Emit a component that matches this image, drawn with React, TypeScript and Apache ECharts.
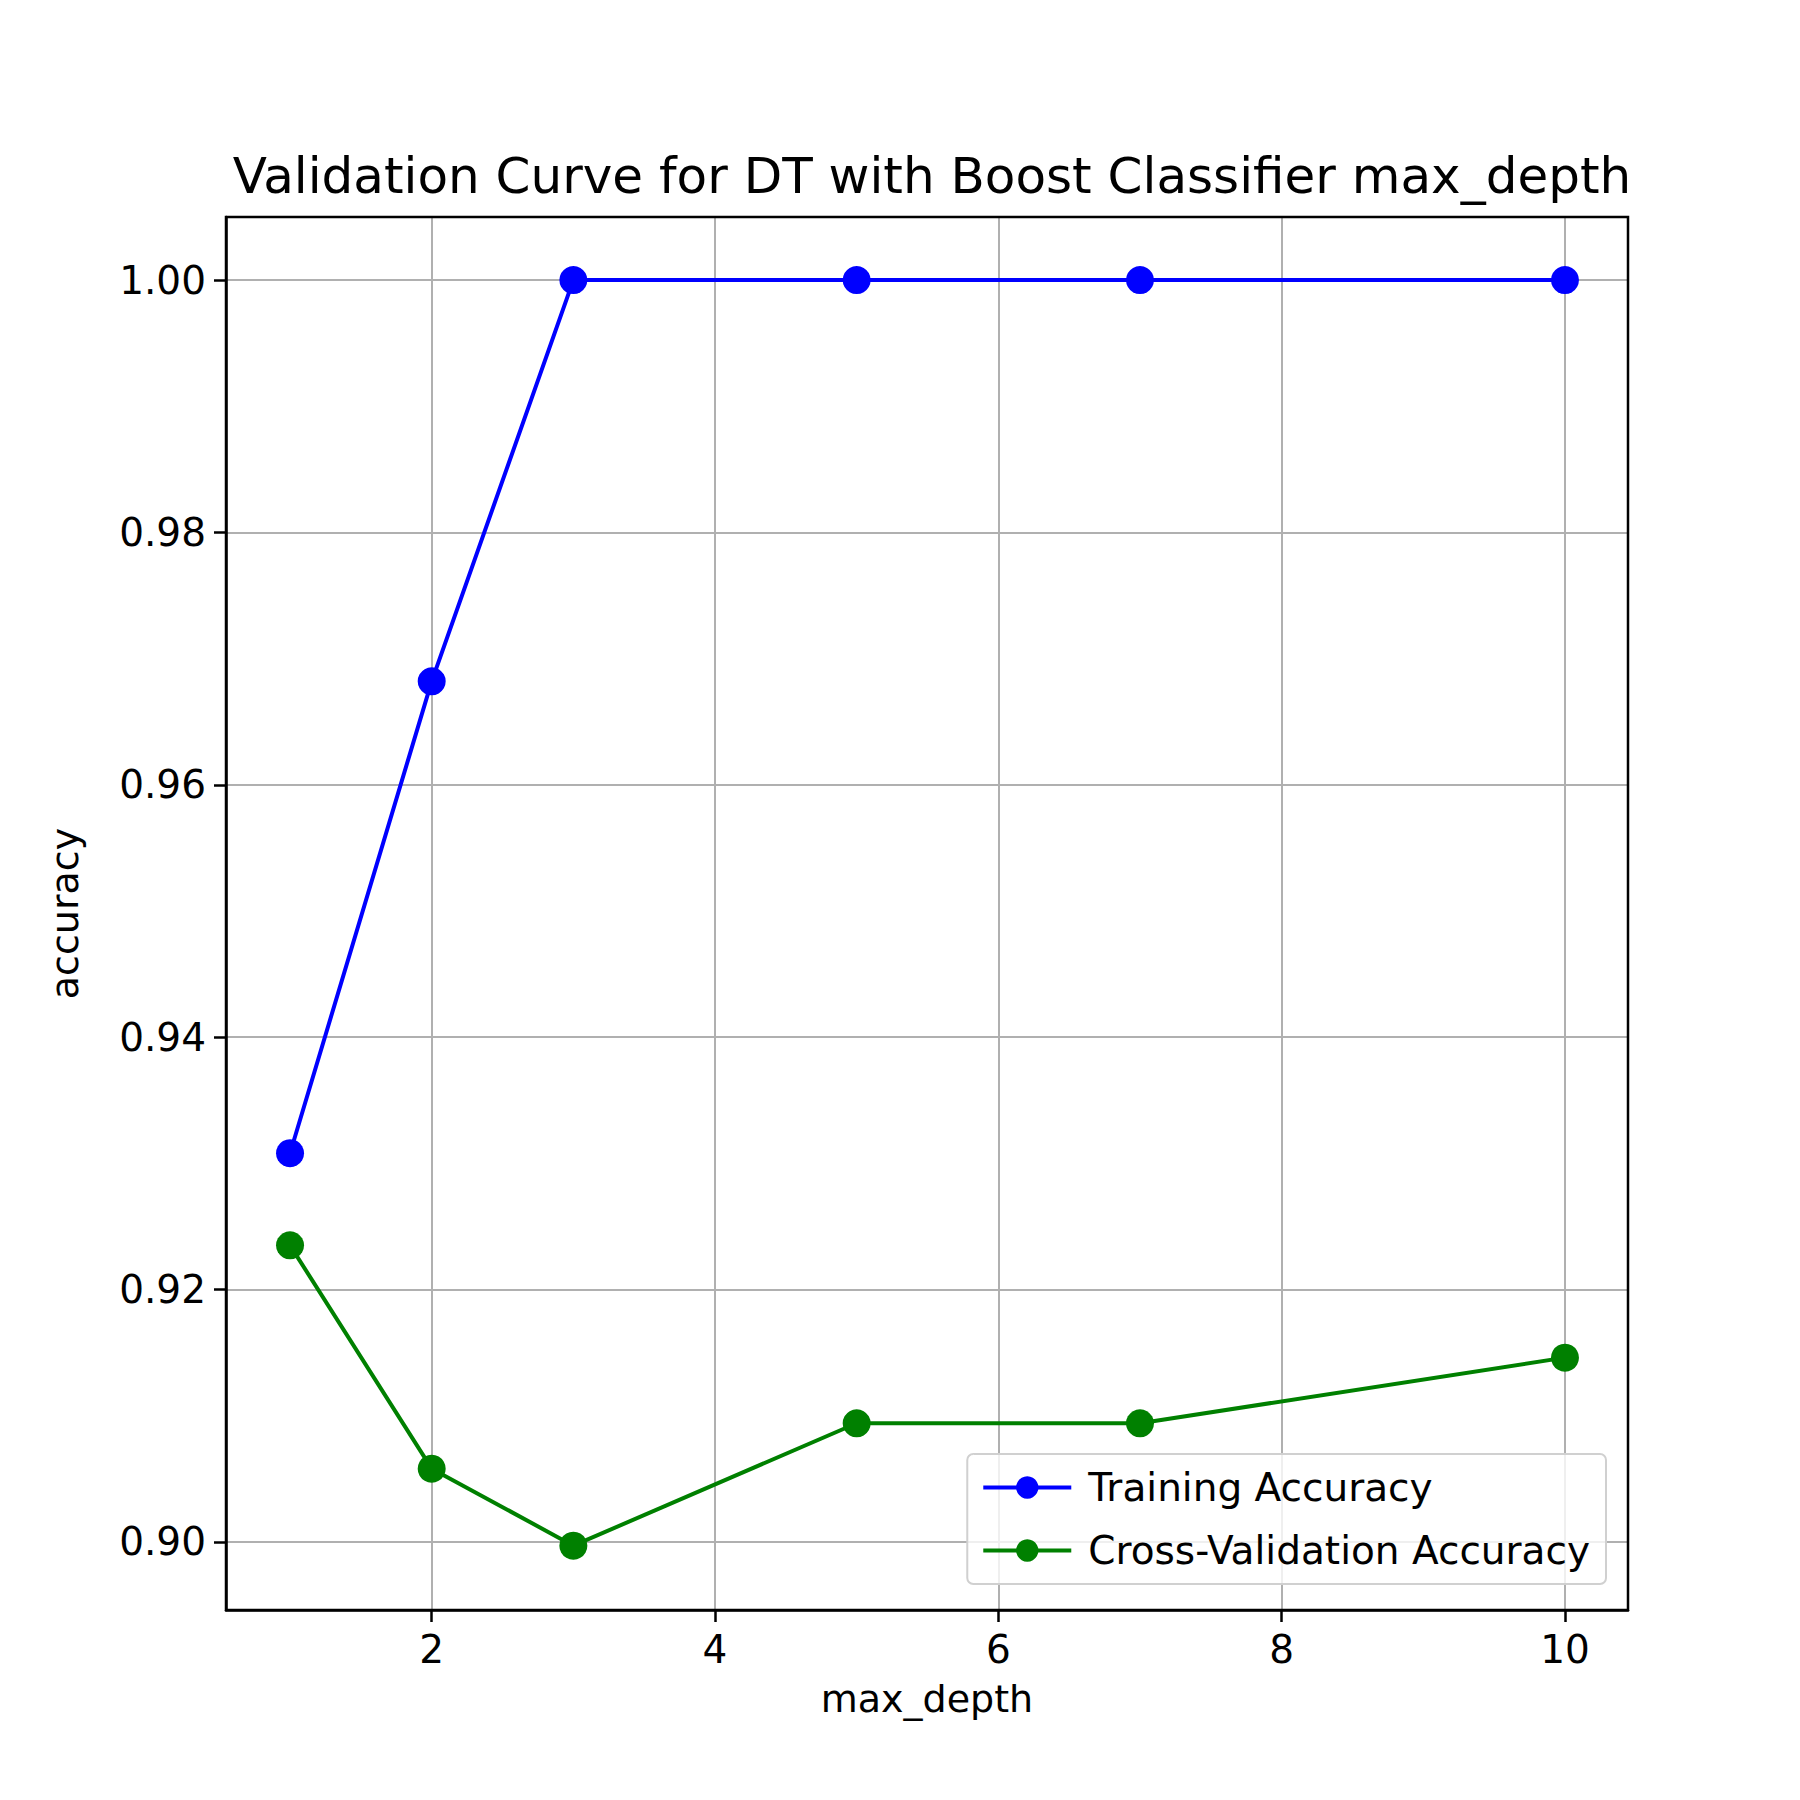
import React, { useEffect, useRef } from 'react';
import * as echarts from 'echarts';

const depths = [1, 2, 3, 5, 7, 10];
const trainAcc = [0.9308, 0.9682, 1.0, 1.0, 1.0, 1.0];
const cvAcc = [0.9235, 0.9058, 0.8997, 0.9094, 0.9094, 0.9146];
const xTicks = [2, 4, 6, 8, 10];
const yTicks = [0.9, 0.92, 0.94, 0.96, 0.98, 1.0];

const font = 'DejaVu Sans';

const App: React.FC = () => {
  const ref = useRef<HTMLDivElement>(null);

  useEffect(() => {
    if (!ref.current) return;
    const chart = echarts.init(ref.current, undefined, { renderer: 'svg' });
    const axisCommon = {
      axisLine: { onZero: false, lineStyle: { color: '#000', width: 2.5 } },
      axisTick: { show: true, inside: false, length: 12, lineStyle: { color: '#000', width: 2.5 } },
      splitLine: { show: true, lineStyle: { color: '#b0b0b0', width: 2 } },
      nameTextStyle: { fontFamily: font, fontSize: 38, color: '#000' },
    };
    chart.setOption({
      animation: false,
      backgroundColor: '#fff',
      textStyle: { fontFamily: font },
      title: {
        text: 'Validation Curve for DT with Boost Classifier max_depth',
        left: 927, top: 146, textAlign: 'center',
        textStyle: { fontFamily: font, fontSize: 50, fontWeight: 'normal', color: '#000' },
      },
      grid: { left: 226, right: 172, top: 217, bottom: 190 },
      xAxis: {
        ...axisCommon,
        type: 'value', min: 0.548, max: 10.445,
        name: 'max_depth', nameLocation: 'middle', nameGap: 70,
        axisTick: { ...axisCommon.axisTick, customValues: xTicks },
        axisLabel: { customValues: xTicks, fontFamily: font, fontSize: 39, color: '#000', margin: 20 },
      },
      yAxis: {
        ...axisCommon,
        type: 'value', min: 0.8946, max: 1.005,
        name: 'accuracy', nameLocation: 'middle', nameGap: 142,
        axisTick: { ...axisCommon.axisTick, customValues: yTicks },
        axisLabel: {
          customValues: yTicks, fontFamily: font, fontSize: 39, color: '#000', margin: 20,
          formatter: (v: number) => v.toFixed(2),
        },
      },
      legend: {
        orient: 'vertical', right: 194, top: 1454,
        backgroundColor: 'rgba(255,255,255,0.8)', borderColor: '#d0d0d0', borderWidth: 2, borderRadius: 6,
        padding: [14, 16, 14, 14], itemWidth: 88, itemHeight: 28, itemGap: 24,
        textStyle: { fontFamily: font, fontSize: 39, color: '#000', padding: [0, 0, 0, 12] },
        lineStyle: { width: 4 },
        data: ['Training Accuracy', 'Cross-Validation Accuracy'],
      },
      series: [
        {
          name: 'Training Accuracy', type: 'line',
          data: depths.map((d, i) => [d, trainAcc[i]]),
          symbol: 'circle', symbolSize: 28, color: '#0000ff',
          lineStyle: { width: 4, color: '#0000ff' }, itemStyle: { color: '#0000ff' },
        },
        {
          name: 'Cross-Validation Accuracy', type: 'line',
          data: depths.map((d, i) => [d, cvAcc[i]]),
          symbol: 'circle', symbolSize: 28, color: '#008000',
          lineStyle: { width: 4, color: '#008000' }, itemStyle: { color: '#008000' },
        },
      ],
      graphic: [
        // top/right frame of the axes box
        { type: 'rect', shape: { x: 226, y: 217, width: 1402, height: 1393 }, style: { fill: 'none', stroke: '#000', lineWidth: 2.5 }, z: 100 },
      ],
    });
    return () => chart.dispose();
  }, []);

  return <div ref={ref} style={{ width: 1800, height: 1800, position: 'absolute', left: 0, top: 0 }} />;
};

export default App;
